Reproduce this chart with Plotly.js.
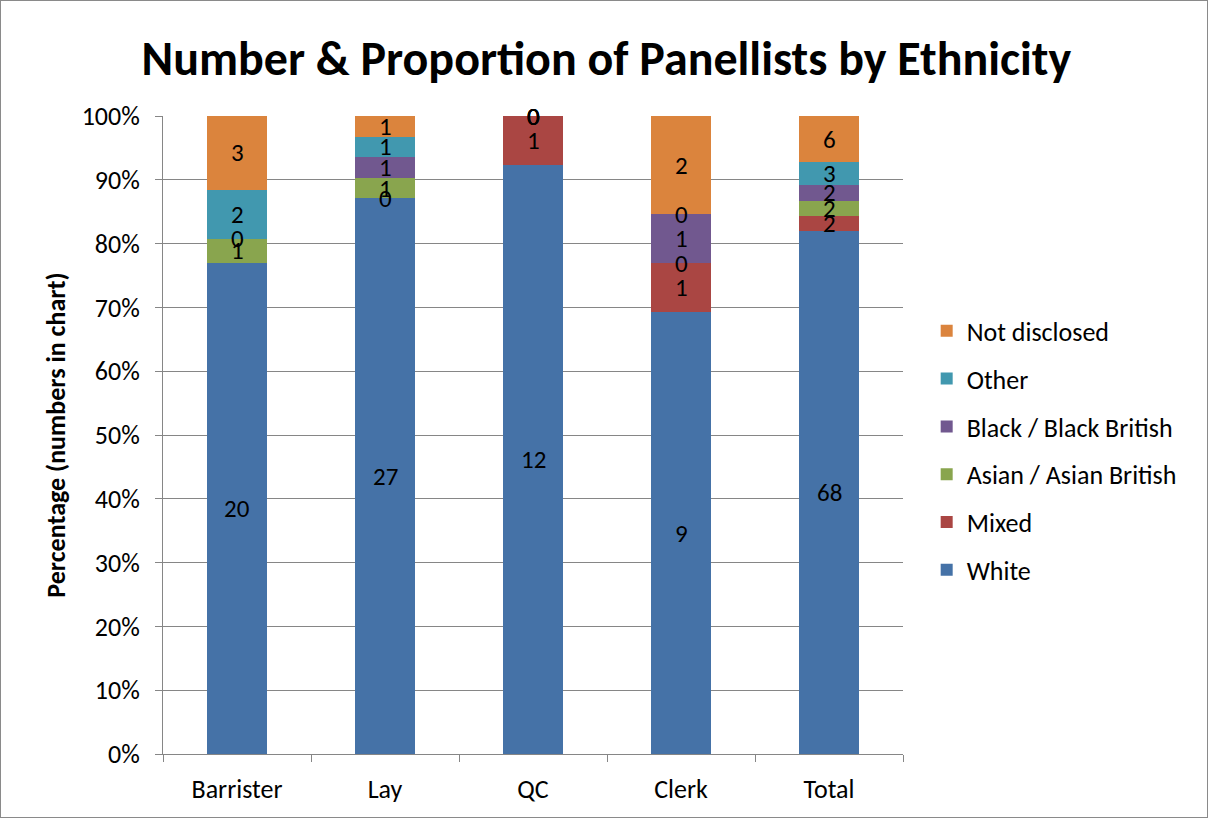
<!DOCTYPE html>
<html><head><meta charset="utf-8">
<script src="https://cdn.plot.ly/plotly-3.0.1.min.js"></script>
<style>html,body{margin:0;padding:0;background:#fff}#chart{width:1206px;height:816px;border:1px solid #8a8a8a}</style>
</head><body><div id="chart"></div>
<script>
const categories = ["Barrister", "Lay", "QC", "Clerk", "Total"];
const seriesNames = ["White", "Mixed", "Asian / Asian British", "Black / Black British", "Other", "Not disclosed"];
const white = [20, 27, 12, 9, 68];
const mixed = [null, 0, 1, 1, 2];
const asian = [1, 1, 0, 0, 2];
const black = [0, 1, 0, 1, 2];
const other = [2, 1, 0, 0, 3];
const notDisclosed = [3, 1, 0, 2, 6];
const colors = ["#4572A7", "#AA4643", "#89A54E", "#71588F", "#4198AF", "#DB843D"];
const yTickVals = [0,10,20,30,40,50,60,70,80,90,100];

const series = [white, mixed, asian, black, other, notDisclosed];
const totals = categories.map((c,i)=>series.reduce((s,a)=>s+(a[i]||0),0));
const font = "Calibri, Carlito, 'Open Sans', sans-serif";

const traces = series.map((vals,k)=>({
  type:'bar', name:seriesNames[k], x:categories,
  y: vals.map((v,i)=>(v||0)/totals[i]*100),
  marker:{color:colors[k]}, width:0.405, hoverinfo:'skip',
  legendgroup:'g'+k, legendrank: series.length - k
}));

const annotations = [];
categories.forEach((c,i)=>{
  let cum = 0;
  series.forEach((vals,k)=>{
    const v = vals[i];
    const h = (v||0)/totals[i]*100;
    if (v !== null) {
      annotations.push({x:c, y:cum+h/2, xref:'x', yref:'y', text:String(v), showarrow:false,
        font:{family:font, size:25, color:'#000'}});
    }
    cum += h;
  });
});

const layout = {
  width:1206, height:816,
  margin:{l:162, r:304, t:115, b:63},
  paper_bgcolor:'#fff', plot_bgcolor:'#fff',
  barmode:'stack',
  title:{text:'<b>Number & Proportion of Panellists by Ethnicity</b>', font:{family:font, size:48, color:'#000'},
    x:0.502, xanchor:'center', xref:'container', y:0.93, yanchor:'middle', yref:'container'},
  xaxis:{type:'category', showline:true, linecolor:'#868686', linewidth:1, ticks:'outside', tickson:'boundaries',
    ticklen:7, tickcolor:'#868686', tickfont:{family:font, size:26, color:'#000'}, showgrid:false, ticklabelstandoff:12},
  yaxis:{range:[0,100], tickvals:yTickVals, ticktext:yTickVals.map(v=>v+'%'), showline:true, linecolor:'#868686',
    ticks:'outside', ticklen:7, tickcolor:'#868686', gridcolor:'#868686', gridwidth:1, ticklabelstandoff:10,
    tickfont:{family:font, size:26, color:'#000'}, zeroline:false,
    title:{text:'<b>Percentage (numbers in chart)</b>', font:{family:font, size:26, color:'#000'}, standoff:8}},
  legend:{x:1.032, xanchor:'left', y:0.7, yanchor:'top', traceorder:'grouped', tracegroupgap:11,
    font:{family:font, size:26, color:'#000'}, itemwidth:30},
  annotations:annotations
};
Plotly.newPlot('chart', traces, layout, {displayModeBar:false, staticPlot:true});
</script></body></html>
